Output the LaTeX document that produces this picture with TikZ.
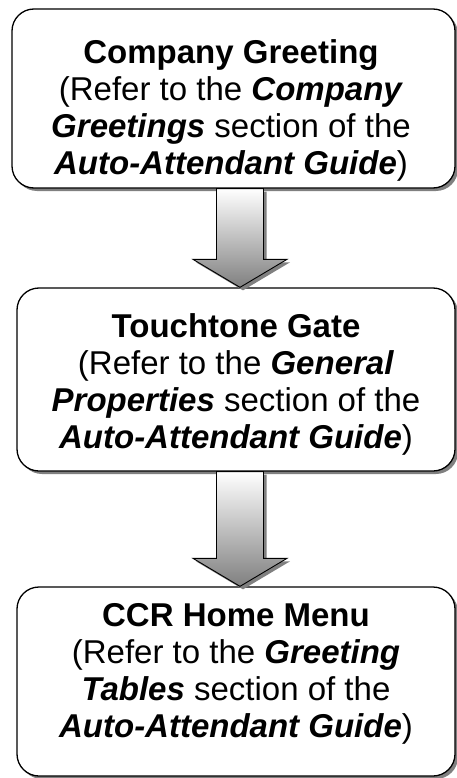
\documentclass[tikz,border=0pt]{standalone}
\usepackage{fontspec}
\setmainfont{Liberation Sans}
\usetikzlibrary{calc}
\newcommand\emphbi[1]{\textbf{\textit{#1}}}
\begin{document}
\begin{tikzpicture}[x=1pt,y=-1pt,
  flowbox/.style={draw=black, line width=1.3pt, fill=white, rounded corners=22pt,
    inner sep=0pt, rectangle},
  boxshadow/.style={fill=black!50, draw=none, rounded corners=22pt, inner sep=0pt,
    transform canvas={xshift=3pt,yshift=-3pt}},
  flowtext/.style={align=center, inner sep=0pt, anchor=base,
    font=\fontsize{33}{37}\selectfont},
  arrowshadow/.style={fill=black!50, transform canvas={xshift=3pt,yshift=-3pt}},
  arrowbody/.style={top color=white, bottom color=black!50, draw=black,
    line width=0.9pt, line join=miter},
]
\useasboundingbox (0,0) rectangle (457,778);

% drop shadows of the three boxes
\path[boxshadow] (12,9) rectangle (455,188);
\path[boxshadow] (17,288) rectangle (455,471);
\path[boxshadow] (17,587) rectangle (455,776);

% the three boxes
\node[flowbox, minimum width=443pt, minimum height=179pt] (box1) at (233.5,98.5) {};
\node[flowbox, minimum width=438pt, minimum height=183pt] (box2) at (236,379.5) {};
\node[flowbox, minimum width=438pt, minimum height=189pt] (box3) at (236,681.5) {};

% box texts (the base anchor sits on the last line)
\node[flowtext] (text1) at (231,175) {\textbf{Company Greeting}\\
  (Refer to the \emphbi{Company}\\
  \emphbi{Greetings} section of the\\
  \emphbi{Auto-Attendant Guide})};
\node[flowtext] (text2) at (236,448) {\textbf{Touchtone Gate}\\
  (Refer to the \emphbi{General}\\
  \emphbi{Properties} section of the\\
  \emphbi{Auto-Attendant Guide})};
\node[flowtext] (text3) at (236,737) {\textbf{CCR Home Menu}\\
  (Refer to the \emphbi{Greeting}\\
  \emphbi{Tables} section of the\\
  \emphbi{Auto-Attendant Guide})};

% block arrows between the boxes
\coordinate (axis) at (240,0);
\foreach \a/\b in {box1/box2, box2/box3} {
  \fill[arrowshadow] ($(\a.south -| axis)+(-23.5,0)$) -- ($(\b.north -| axis)+(-23.5,-28)$)
    -- ($(\b.north -| axis)+(-47,-28)$) -- (\b.north -| axis)
    -- ($(\b.north -| axis)+(47,-28)$) -- ($(\b.north -| axis)+(23.5,-28)$)
    -- ($(\a.south -| axis)+(23.5,0)$) -- cycle;
  \shadedraw[arrowbody] ($(\a.south -| axis)+(-23.5,0)$) -- ($(\b.north -| axis)+(-23.5,-28)$)
    -- ($(\b.north -| axis)+(-47,-28)$) -- (\b.north -| axis)
    -- ($(\b.north -| axis)+(47,-28)$) -- ($(\b.north -| axis)+(23.5,-28)$)
    -- ($(\a.south -| axis)+(23.5,0)$) -- cycle;
}
\end{tikzpicture}
\end{document}
